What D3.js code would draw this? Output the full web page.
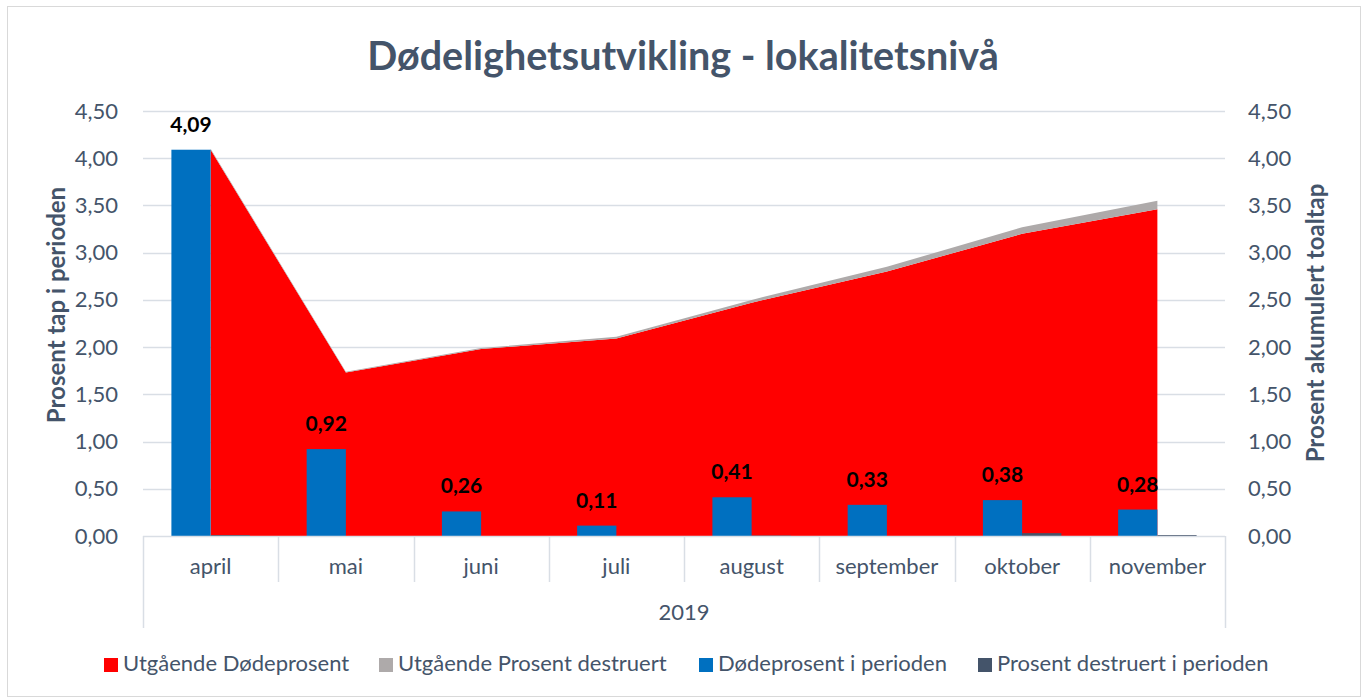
<!DOCTYPE html>
<html>
<head>
<meta charset="utf-8">
<script src="https://cdn.jsdelivr.net/npm/d3@7"></script>
<style>
  body { margin: 0; background: #fff; }
  svg { display: block; font-family: Lato, "Open Sans", sans-serif; }
</style>
</head>
<body>
<div id="chart"></div>
<script>
var width = 1367;
var height = 699;

var months = ["april", "mai", "juni", "juli", "august", "september", "oktober", "november"];
var yearLabel = "2019";
var utgDode = [4.09, 1.73, 1.98, 2.09, 2.47, 2.80, 3.20, 3.46];
var utgDestruert = [0.01, 0.01, 0.01, 0.02, 0.03, 0.05, 0.07, 0.09];
var dodeIPerioden = [4.09, 0.92, 0.26, 0.11, 0.41, 0.33, 0.38, 0.28];
var destruertIPerioden = [0.01, 0, 0, 0, 0.005, 0, 0.03, 0.01];
var seriesNames = ["Utgående Dødeprosent", "Utgående Prosent destruert", "Dødeprosent i perioden", "Prosent destruert i perioden"];
var seriesColors = ["#ff0000", "#aeaaaa", "#0070c0", "#44546a"];
var yTicks = [0, 0.5, 1, 1.5, 2, 2.5, 3, 3.5, 4, 4.5];

var textColor = "#44546a";
var gridColor = "#d9dee5";
var fmt = function(v) { return d3.format(".2f")(v).replace(".", ","); };

var plot = {left: 143, right: 1225, top: 111, bottom: 536};

var svg = d3.select("#chart")
            .append("svg")
            .attr("width", width)
            .attr("height", height);

// chart border
svg.append("rect")
   .attr("x", 7.5).attr("y", 6.5)
   .attr("width", 1353).attr("height", 690)
   .attr("fill", "#fff")
   .attr("stroke", "#d9d9d9");

var x = d3.scaleBand()
          .domain(months)
          .range([plot.left, plot.right]);

var y = d3.scaleLinear()
          .domain([0, 4.5])
          .range([plot.bottom, plot.top]);

var yRight = d3.scaleLinear()
               .domain([0, 4.5])
               .range([plot.bottom, plot.top]);

// gridlines
svg.append("g")
   .selectAll("line")
   .data(yTicks.slice(1))
   .enter()
   .append("line")
   .attr("x1", plot.left).attr("x2", plot.right)
   .attr("y1", function(d) { return Math.round(y(d)) + 0.5; })
   .attr("y2", function(d) { return Math.round(y(d)) + 0.5; })
   .attr("stroke", gridColor)
   .attr("stroke-width", 1.5);

// stacked area (red + grey on top)
var rows = months.map(function(m, i) {
	return {month: m, dode: utgDode[i], destruert: utgDestruert[i]};
});
var stack = d3.stack().keys(["dode", "destruert"])(rows);

var area = d3.area()
             .x(function(d) { return x(d.data.month) + x.bandwidth() / 2; })
             .y0(function(d) { return y(d[0]); })
             .y1(function(d) { return y(d[1]); });

svg.append("g")
   .selectAll("path")
   .data(stack)
   .enter()
   .append("path")
   .attr("d", area)
   .attr("fill", function(d, i) { return seriesColors[i]; });

// bars
var barW = x.bandwidth() * 0.29;

svg.append("g")
   .selectAll("rect")
   .data(months)
   .enter()
   .append("rect")
   .attr("x", function(d) { return x(d) + x.bandwidth() / 2 - barW; })
   .attr("y", function(d, i) { return y(dodeIPerioden[i]); })
   .attr("width", barW)
   .attr("height", function(d, i) { return y(0) - y(dodeIPerioden[i]); })
   .attr("fill", seriesColors[2]);

svg.append("g")
   .selectAll("rect")
   .data(months)
   .enter()
   .append("rect")
   .attr("x", function(d) { return x(d) + x.bandwidth() / 2; })
   .attr("y", function(d, i) { return y(destruertIPerioden[i]); })
   .attr("width", barW)
   .attr("height", function(d, i) { return y(0) - y(destruertIPerioden[i]); })
   .attr("fill", seriesColors[3]);

// data labels
svg.append("g")
   .selectAll("text")
   .data(months)
   .enter()
   .append("text")
   .attr("x", function(d) { return x(d) + x.bandwidth() / 2 - barW / 2; })
   .attr("y", function(d, i) { return y(dodeIPerioden[i]) - 18; })
   .attr("text-anchor", "middle")
   .style("font-size", "21px")
   .style("font-weight", "bold")
   .style("fill", "#000")
   .text(function(d, i) { return fmt(dodeIPerioden[i]); });

// category axis
var axisG = svg.append("g");
axisG.append("line")
     .attr("x1", plot.left).attr("x2", plot.right)
     .attr("y1", plot.bottom + 0.5).attr("y2", plot.bottom + 0.5)
     .attr("stroke", gridColor).attr("stroke-width", 1.5);

var bounds = months.map(function(m) { return x(m); }).concat([plot.right]);
axisG.selectAll("line.div")
     .data(bounds)
     .enter()
     .append("line")
     .attr("class", "div")
     .attr("x1", function(d) { return Math.round(d) + 0.5; })
     .attr("x2", function(d) { return Math.round(d) + 0.5; })
     .attr("y1", plot.bottom)
     .attr("y2", function(d, i) { return (i == 0 || i == bounds.length - 1) ? 628 : 582; })
     .attr("stroke", gridColor).attr("stroke-width", 1.5);

axisG.selectAll("text.month")
     .data(months)
     .enter()
     .append("text")
     .attr("class", "month")
     .attr("x", function(d) { return x(d) + x.bandwidth() / 2; })
     .attr("y", 574)
     .attr("text-anchor", "middle")
     .style("font-size", "22px")
     .style("fill", textColor)
     .text(function(d) { return d; });

axisG.append("text")
     .attr("x", (plot.left + plot.right) / 2)
     .attr("y", 620)
     .attr("text-anchor", "middle")
     .style("font-size", "22px")
     .style("fill", textColor)
     .text(yearLabel);

// value axes
var leftAxis = d3.axisLeft(y).tickValues(yTicks).tickFormat(fmt).tickSize(0).tickPadding(25);
svg.append("g")
   .attr("transform", "translate(" + plot.left + ",0)")
   .call(leftAxis)
   .call(function(g) { g.select(".domain").remove(); })
   .selectAll("text")
   .style("font-size", "22px")
   .style("font-family", "Lato, sans-serif")
   .style("fill", textColor);

var rightAxis = d3.axisRight(yRight).tickValues(yTicks).tickFormat(fmt).tickSize(0).tickPadding(23);
svg.append("g")
   .attr("transform", "translate(" + plot.right + ",0)")
   .call(rightAxis)
   .call(function(g) { g.select(".domain").remove(); })
   .selectAll("text")
   .style("font-size", "22px")
   .style("font-family", "Lato, sans-serif")
   .style("fill", textColor);

// axis titles
svg.append("text")
   .attr("transform", "translate(65,305) rotate(-90)")
   .attr("text-anchor", "middle")
   .style("font-size", "24px")
   .style("font-weight", "bold")
   .style("fill", textColor)
   .text("Prosent tap i perioden");

svg.append("text")
   .attr("transform", "translate(1324,323) rotate(-90)")
   .attr("text-anchor", "middle")
   .style("font-size", "24px")
   .style("font-weight", "bold")
   .style("fill", textColor)
   .text("Prosent akumulert toaltap");

// title
svg.append("text")
   .attr("x", 683)
   .attr("y", 70)
   .attr("text-anchor", "middle")
   .style("font-size", "39.5px")
   .style("font-weight", "bold")
   .style("fill", textColor)
   .text("Dødelighetsutvikling - lokalitetsnivå");

// legend
var legendX = [104, 379, 699, 978];
var legend = svg.append("g")
                .selectAll("g")
                .data(seriesNames)
                .enter()
                .append("g")
                .attr("transform", function(d, i) { return "translate(" + legendX[i] + ",658)"; });

legend.append("rect")
      .attr("width", 14).attr("height", 14)
      .attr("fill", function(d, i) { return seriesColors[i]; });

legend.append("text")
      .attr("x", 19)
      .attr("y", 13)
      .style("font-size", "22px")
      .style("fill", textColor)
      .text(function(d) { return d; });
</script>
</body>
</html>
